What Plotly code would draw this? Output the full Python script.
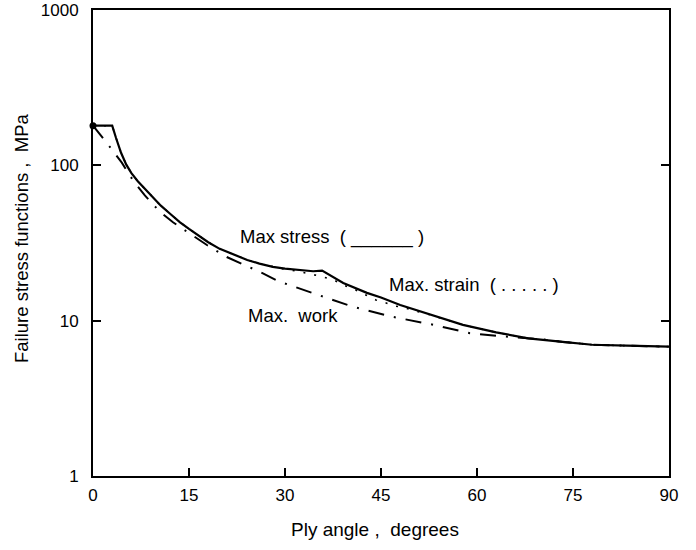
import plotly.graph_objects as go

# Ply angle (degrees) and failure stress function values (MPa)
stress_angle = [0, 3.0, 3.6, 4.4, 5.2, 6.0, 7.0, 8.3, 9.5, 10.6, 12.0, 13.6, 15.0, 16.7, 18.0,
                19.8, 22.0, 24.1, 26.0, 28.1, 30.0, 31.9, 34.4, 35.8, 39.1, 42.8, 45.0,
                48.0, 53.0, 57.8, 63.0, 68.0, 73.4, 78.0, 83.4, 90.0]
stress_value = [180, 180, 150, 120, 101, 89, 79, 69, 61, 55, 49, 43, 39, 35, 32,
                29, 26.5, 24.6, 23.3, 22.2, 21.6, 21.2, 20.8, 21.0, 17.5, 15.1, 14.1,
                12.6, 10.8, 9.4, 8.4, 7.7, 7.3, 7.0, 6.9, 6.8]

strain_angle = [0, 3.0, 3.6, 4.4, 5.2, 6.0, 7.0, 8.3, 9.5, 10.6, 12.0, 13.6, 15.0, 16.7, 18.0,
                19.8, 22.0, 24.1, 26.0, 28.1, 30.0, 32.0, 34.4, 35.8, 37.6, 39.1, 41.0,
                42.5, 44.2, 45.8, 47.3, 48.0, 53.0, 57.8, 63.0, 68.0, 73.4, 78.0, 83.4, 90.0]
strain_value = [180, 180, 150, 120, 101, 89, 79, 69, 61, 55, 49, 43, 39, 35, 32,
                29, 26.5, 24.6, 23.3, 22.2, 21.4, 20.8, 19.8, 19.2, 18.3, 17.0, 15.8,
                14.7, 13.6, 13.0, 12.4, 12.3, 10.8, 9.4, 8.4, 7.7, 7.3, 7.0, 6.9, 6.8]

work_angle = [0, 1.7, 2.8, 4.5, 6.25, 8.1, 10.5, 12.5, 14.1, 15.5, 17.8, 20.9, 23.3, 26.4,
              28.9, 32.0, 34.4, 37.0, 40.6, 46.7, 52.7, 58.9, 65.2, 70.0, 73.4, 78.0, 83.4, 90.0]
work_value = [180, 148, 129, 104, 80, 64, 50, 43, 39, 35.5, 30.7, 25.7, 23.2, 20.3,
              18.0, 16.2, 15.1, 13.8, 12.3, 10.6, 9.5, 8.3, 7.85, 7.6, 7.3, 7.0, 6.9, 6.8]

x_ticks = [0, 15, 30, 45, 60, 75, 90]
y_ticks = [1, 10, 100, 1000]
y_tick_labels = ["1", "10", "100", "1000"]

FONT = "Liberation Sans, Arial, Helvetica, sans-serif"

fig = go.Figure()
fig.add_trace(go.Scatter(x=work_angle, y=work_value, mode="lines",
                         line=dict(color="black", width=2, dash="16px,10px,2px,10px"),
                         name="Max. work"))
fig.add_trace(go.Scatter(x=strain_angle, y=strain_value, mode="lines",
                         line=dict(color="black", width=1.6, dash="2px,9px"),
                         name="Max. strain"))
fig.add_trace(go.Scatter(x=stress_angle, y=stress_value, mode="lines",
                         line=dict(color="black", width=2.2),
                         name="Max stress"))
fig.add_trace(go.Scatter(x=stress_angle[:1], y=stress_value[:1], mode="markers",
                         marker=dict(color="black", size=7), cliponaxis=False,
                         name="start"))

fig.update_layout(
    width=696, height=550,
    margin=dict(l=93, r=27, t=10, b=74),
    paper_bgcolor="white", plot_bgcolor="white",
    showlegend=False,
    font=dict(family=FONT, size=18, color="black"),
    xaxis=dict(range=[0, 90], tickvals=x_ticks, ticks="inside", ticklen=8, tickwidth=1.5,
               tickcolor="black", showline=True, linewidth=2, linecolor="black", mirror=True,
               showgrid=False, zeroline=False, tickfont=dict(size=17),
               ticklabelstandoff=3, automargin=False),
    yaxis=dict(type="log", range=[0, 3], tickvals=y_ticks, ticktext=y_tick_labels,
               ticks="inside", ticklen=8, tickwidth=1.5, tickcolor="black",
               showline=True, linewidth=2, linecolor="black", mirror="ticks",
               showgrid=False, zeroline=False, tickfont=dict(size=17),
               ticklabelstandoff=9, automargin=False),
    annotations=[
        dict(x=22.65, y=1.539, xref="x", yref="y", text="Max stress  ( ______ )",
             showarrow=False, xanchor="left", yanchor="middle", font=dict(size=18.5)),
        dict(x=45.9, y=1.2297, xref="x", yref="y", text="Max. strain  ( . . . . . )",
             showarrow=False, xanchor="left", yanchor="middle", font=dict(size=18.5)),
        dict(x=23.9, y=1.0365, xref="x", yref="y", text="Max.  work",
             showarrow=False, xanchor="left", yanchor="middle", font=dict(size=18.5)),
        dict(x=-0.123, y=0.511, xref="paper", yref="paper", text="Failure stress functions ,  MPa",
             textangle=-90, showarrow=False, xanchor="center", yanchor="middle",
             font=dict(size=18.5)),
        dict(x=0.49, y=-0.115, xref="paper", yref="paper", text="Ply angle ,  degrees",
             showarrow=False, xanchor="center", yanchor="middle", font=dict(size=19)),
    ],
)

fig.write_html("out.html", config={"displayModeBar": False},
               post_script="document.body.style.margin='0';")
